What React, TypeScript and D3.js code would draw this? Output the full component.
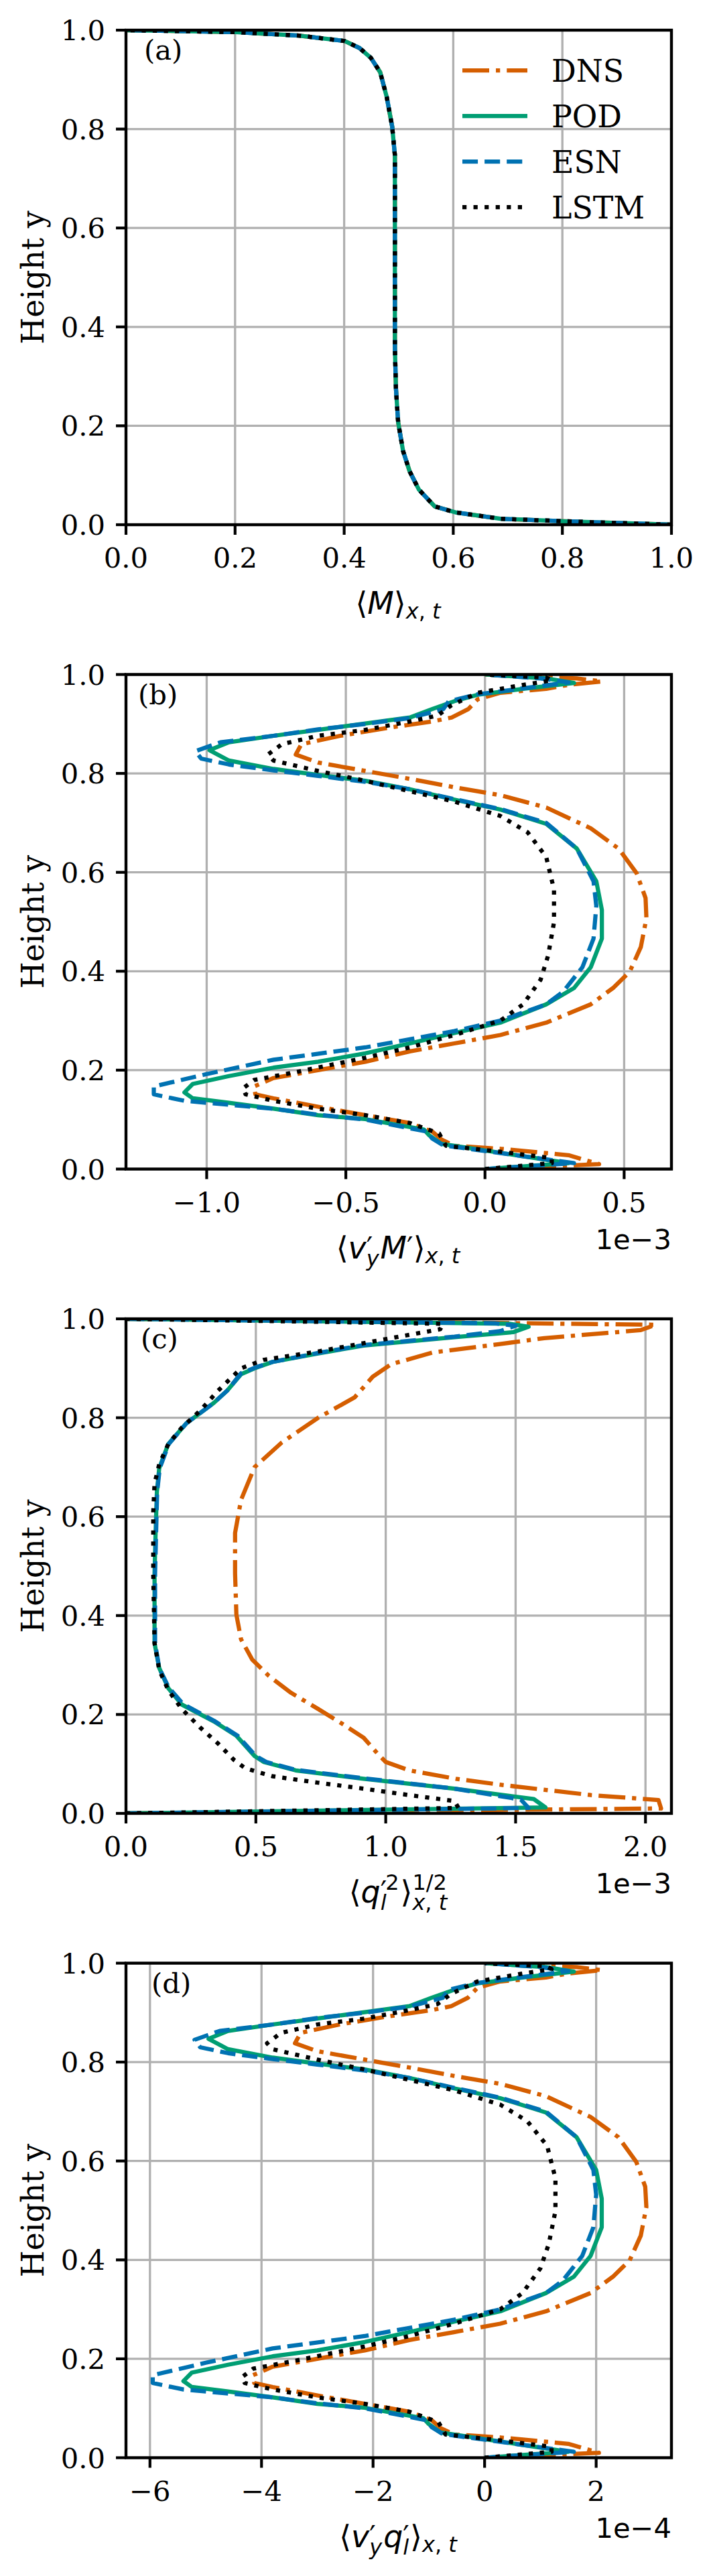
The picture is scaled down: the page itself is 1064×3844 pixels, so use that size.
import React, { useMemo } from 'react';
import * as d3 from 'd3';

type Pt = [number, number];

// ---------- Data: [x value, height y] ----------
// Panel (a): <M>_{x,t} (all four series coincide)
const aDNS: Pt[] = [[1.0,0.0],[0.804,0.007],[0.687,0.012],[0.604,0.025],[0.566,0.037],[0.537,0.071],[0.520,0.108],[0.508,0.149],[0.499,0.207],[0.495,0.274],[0.493,0.357],[0.493,0.481],[0.493,0.647],[0.493,0.747],[0.488,0.805],[0.478,0.865],[0.466,0.915],[0.449,0.944],[0.428,0.964],[0.401,0.978],[0.317,0.989],[0.200,0.996],[0.0,1.0]];
const aPOD: Pt[] = [[1.0,0.0],[0.804,0.007],[0.687,0.012],[0.604,0.025],[0.566,0.037],[0.537,0.071],[0.520,0.108],[0.508,0.149],[0.499,0.207],[0.495,0.274],[0.493,0.357],[0.493,0.481],[0.493,0.647],[0.493,0.747],[0.488,0.805],[0.478,0.865],[0.466,0.915],[0.449,0.944],[0.428,0.964],[0.401,0.978],[0.317,0.989],[0.200,0.996],[0.0,1.0]];
const aESN: Pt[] = [[1.0,0.0],[0.804,0.007],[0.687,0.012],[0.604,0.025],[0.566,0.037],[0.537,0.071],[0.520,0.108],[0.508,0.149],[0.499,0.207],[0.495,0.274],[0.493,0.357],[0.493,0.481],[0.493,0.647],[0.493,0.747],[0.488,0.805],[0.478,0.865],[0.466,0.915],[0.449,0.944],[0.428,0.964],[0.401,0.978],[0.317,0.989],[0.200,0.996],[0.0,1.0]];
const aLSTM: Pt[] = [[1.0,0.0],[0.804,0.007],[0.687,0.012],[0.604,0.025],[0.566,0.037],[0.537,0.071],[0.520,0.108],[0.508,0.149],[0.499,0.207],[0.495,0.274],[0.493,0.357],[0.493,0.481],[0.493,0.647],[0.493,0.747],[0.488,0.805],[0.478,0.865],[0.466,0.915],[0.449,0.944],[0.428,0.964],[0.401,0.978],[0.317,0.989],[0.200,0.996],[0.0,1.0]];

// Panel (b): <v'_y M'>_{x,t}  (units 1e-3)
const bDNS: Pt[] = [[0,0],[0.41,0.010],[0.30,0.028],[0.055,0.041],[-0.11,0.047],[-0.157,0.060],[-0.19,0.076],[-0.27,0.093],[-0.43,0.109],[-0.60,0.126],[-0.76,0.143],[-0.825,0.151],[-0.83,0.167],[-0.76,0.184],[-0.60,0.200],[-0.43,0.217],[-0.27,0.238],[-0.11,0.254],[0.055,0.271],[0.22,0.296],[0.38,0.333],[0.46,0.366],[0.52,0.399],[0.56,0.449],[0.58,0.507],[0.577,0.548],[0.545,0.598],[0.48,0.648],[0.38,0.689],[0.22,0.731],[0.055,0.756],[-0.11,0.772],[-0.27,0.789],[-0.43,0.805],[-0.60,0.822],[-0.68,0.838],[-0.66,0.859],[-0.52,0.876],[-0.35,0.892],[-0.19,0.905],[-0.12,0.913],[-0.06,0.930],[-0.026,0.950],[0.055,0.963],[0.22,0.971],[0.30,0.979],[0.42,0.986],[0.33,0.992],[0.055,0.998],[0,1.0]];
const bPOD: Pt[] = [[0,0],[0.30,0.012],[0.137,0.026],[-0.157,0.051],[-0.20,0.068],[-0.22,0.080],[-0.43,0.101],[-0.60,0.109],[-0.76,0.122],[-0.92,0.134],[-1.05,0.143],[-1.08,0.155],[-1.05,0.172],[-0.92,0.188],[-0.76,0.205],[-0.60,0.217],[-0.43,0.234],[-0.27,0.254],[-0.11,0.275],[0.055,0.296],[0.22,0.333],[0.32,0.366],[0.38,0.408],[0.42,0.466],[0.42,0.524],[0.40,0.582],[0.33,0.648],[0.22,0.698],[0.055,0.727],[-0.11,0.747],[-0.27,0.768],[-0.43,0.785],[-0.60,0.797],[-0.76,0.809],[-0.92,0.826],[-0.99,0.847],[-0.92,0.863],[-0.76,0.876],[-0.60,0.888],[-0.43,0.901],[-0.27,0.913],[-0.19,0.930],[-0.11,0.946],[-0.026,0.959],[0.137,0.971],[0.32,0.983],[0.22,0.992],[0,1.0]];
const bESN: Pt[] = [[0,0],[0.32,0.012],[0.137,0.026],[-0.15,0.048],[-0.19,0.062],[-0.21,0.076],[-0.43,0.100],[-0.60,0.110],[-0.76,0.122],[-0.92,0.130],[-1.08,0.138],[-1.19,0.151],[-1.19,0.167],[-1.0,0.192],[-0.76,0.221],[-0.43,0.246],[-0.11,0.279],[0.055,0.300],[0.22,0.333],[0.28,0.358],[0.35,0.408],[0.39,0.466],[0.40,0.532],[0.39,0.582],[0.33,0.648],[0.22,0.700],[0.055,0.728],[-0.11,0.748],[-0.27,0.768],[-0.43,0.783],[-0.60,0.795],[-0.76,0.806],[-0.92,0.818],[-1.02,0.830],[-1.04,0.845],[-0.95,0.863],[-0.76,0.876],[-0.60,0.889],[-0.43,0.900],[-0.27,0.912],[-0.15,0.930],[-0.13,0.946],[-0.026,0.960],[0.137,0.972],[0.30,0.984],[0.20,0.992],[0,1.0]];
const bLSTM: Pt[] = [[0,0],[0.24,0.012],[0.24,0.022],[0.055,0.035],[-0.14,0.047],[-0.165,0.072],[-0.27,0.093],[-0.43,0.109],[-0.60,0.122],[-0.76,0.138],[-0.86,0.151],[-0.87,0.163],[-0.83,0.180],[-0.68,0.196],[-0.43,0.225],[-0.27,0.246],[-0.11,0.271],[0.055,0.300],[0.137,0.333],[0.20,0.383],[0.227,0.432],[0.248,0.499],[0.248,0.565],[0.22,0.631],[0.153,0.681],[0.055,0.714],[-0.11,0.743],[-0.27,0.764],[-0.43,0.785],[-0.60,0.805],[-0.76,0.826],[-0.78,0.838],[-0.73,0.859],[-0.60,0.876],[-0.43,0.888],[-0.27,0.905],[-0.17,0.917],[-0.12,0.938],[-0.026,0.963],[0.137,0.979],[0.24,0.988],[0.22,0.994],[0,1.0]];

// Panel (c): <q_l'^2>^{1/2}_{x,t}  (units 1e-3)
const cDNS: Pt[] = [[0,0],[2.06,0.010],[2.05,0.027],[1.79,0.037],[1.44,0.058],[1.27,0.070],[1.09,0.087],[1.0,0.104],[0.97,0.120],[0.915,0.153],[0.83,0.182],[0.74,0.211],[0.635,0.244],[0.55,0.278],[0.486,0.311],[0.443,0.352],[0.425,0.402],[0.42,0.485],[0.42,0.567],[0.443,0.634],[0.495,0.700],[0.60,0.750],[0.74,0.800],[0.88,0.841],[0.95,0.883],[1.02,0.908],[1.18,0.932],[1.44,0.949],[1.61,0.961],[1.98,0.977],[2.04,0.988],[0,1.0]];
const cPOD: Pt[] = [[0,0],[1.615,0.012],[1.57,0.029],[1.265,0.050],[0.915,0.070],[0.653,0.087],[0.53,0.104],[0.495,0.116],[0.425,0.157],[0.338,0.186],[0.215,0.220],[0.163,0.253],[0.128,0.294],[0.11,0.344],[0.11,0.485],[0.114,0.567],[0.119,0.650],[0.128,0.698],[0.163,0.747],[0.233,0.789],[0.338,0.830],[0.39,0.855],[0.443,0.888],[0.495,0.900],[0.565,0.913],[0.74,0.930],[0.915,0.946],[1.265,0.963],[1.49,0.973],[1.55,0.984],[1.475,0.990],[0,1.0]];
const cESN: Pt[] = [[0,0],[1.55,0.011],[1.52,0.028],[1.265,0.050],[0.915,0.071],[0.653,0.088],[0.54,0.104],[0.50,0.116],[0.43,0.157],[0.34,0.187],[0.22,0.221],[0.165,0.254],[0.128,0.294],[0.112,0.344],[0.112,0.485],[0.116,0.567],[0.12,0.650],[0.13,0.698],[0.165,0.747],[0.233,0.789],[0.338,0.830],[0.39,0.855],[0.443,0.890],[0.50,0.902],[0.565,0.913],[0.74,0.931],[0.915,0.947],[1.265,0.964],[1.44,0.975],[1.50,0.986],[1.42,0.991],[0,1.0]];
const cLSTM: Pt[] = [[0,0],[1.28,0.011],[1.265,0.025],[1.09,0.037],[0.915,0.050],[0.74,0.062],[0.565,0.075],[0.46,0.091],[0.416,0.108],[0.355,0.141],[0.285,0.174],[0.215,0.211],[0.163,0.249],[0.128,0.290],[0.11,0.344],[0.105,0.485],[0.105,0.609],[0.11,0.667],[0.128,0.706],[0.163,0.747],[0.215,0.780],[0.285,0.814],[0.355,0.855],[0.443,0.900],[0.53,0.917],[0.74,0.934],[1.0,0.959],[1.21,0.979],[1.22,0.990],[0,1.0]];

// Panel (d): <v'_y q'_l>_{x,t}  (units 1e-4)
const dDNS: Pt[] = [[0,0],[2.05,0.010],[1.5,0.028],[0.28,0.041],[-0.55,0.047],[-0.79,0.060],[-0.95,0.076],[-1.35,0.093],[-2.15,0.109],[-3.0,0.126],[-3.8,0.143],[-4.13,0.151],[-4.15,0.167],[-3.8,0.184],[-3.0,0.200],[-2.15,0.217],[-1.35,0.238],[-0.55,0.254],[0.28,0.271],[1.1,0.296],[1.9,0.333],[2.3,0.366],[2.6,0.399],[2.8,0.449],[2.9,0.507],[2.88,0.548],[2.72,0.598],[2.4,0.648],[1.9,0.689],[1.1,0.731],[0.28,0.756],[-0.55,0.772],[-1.35,0.789],[-2.15,0.805],[-3.0,0.822],[-3.4,0.838],[-3.3,0.859],[-2.6,0.876],[-1.75,0.892],[-0.95,0.905],[-0.6,0.913],[-0.3,0.930],[-0.13,0.950],[0.28,0.963],[1.1,0.971],[1.5,0.979],[2.1,0.986],[1.65,0.992],[0.28,0.998],[0,1.0]];
const dPOD: Pt[] = [[0,0],[1.5,0.012],[0.68,0.026],[-0.79,0.051],[-1.0,0.068],[-1.1,0.080],[-2.15,0.101],[-3.0,0.109],[-3.8,0.122],[-4.6,0.134],[-5.25,0.143],[-5.4,0.155],[-5.25,0.172],[-4.6,0.188],[-3.8,0.205],[-3.0,0.217],[-2.15,0.234],[-1.35,0.254],[-0.55,0.275],[0.28,0.296],[1.1,0.333],[1.6,0.366],[1.9,0.408],[2.1,0.466],[2.1,0.524],[2.0,0.582],[1.65,0.648],[1.1,0.698],[0.28,0.727],[-0.55,0.747],[-1.35,0.768],[-2.15,0.785],[-3.0,0.797],[-3.8,0.809],[-4.6,0.826],[-4.95,0.847],[-4.6,0.863],[-3.8,0.876],[-3.0,0.888],[-2.15,0.901],[-1.35,0.913],[-0.95,0.930],[-0.55,0.946],[-0.13,0.959],[0.68,0.971],[1.6,0.983],[1.1,0.992],[0,1.0]];
const dESN: Pt[] = [[0,0],[1.6,0.012],[0.68,0.026],[-0.75,0.048],[-0.95,0.062],[-1.05,0.076],[-2.15,0.100],[-3.0,0.110],[-3.8,0.122],[-4.6,0.130],[-5.4,0.138],[-5.95,0.151],[-5.95,0.167],[-5.0,0.192],[-3.8,0.221],[-2.15,0.246],[-0.55,0.279],[0.28,0.300],[1.1,0.333],[1.4,0.358],[1.75,0.408],[1.95,0.466],[2.0,0.532],[1.95,0.582],[1.65,0.648],[1.1,0.700],[0.28,0.728],[-0.55,0.748],[-1.35,0.768],[-2.15,0.783],[-3.0,0.795],[-3.8,0.806],[-4.6,0.818],[-5.1,0.830],[-5.2,0.845],[-4.75,0.863],[-3.8,0.876],[-3.0,0.889],[-2.15,0.900],[-1.35,0.912],[-0.75,0.930],[-0.65,0.946],[-0.13,0.960],[0.68,0.972],[1.5,0.984],[1.0,0.992],[0,1.0]];
const dLSTM: Pt[] = [[0,0],[1.2,0.012],[1.2,0.022],[0.28,0.035],[-0.7,0.047],[-0.83,0.072],[-1.35,0.093],[-2.15,0.109],[-3.0,0.122],[-3.8,0.138],[-4.3,0.151],[-4.35,0.163],[-4.15,0.180],[-3.4,0.196],[-2.15,0.225],[-1.35,0.246],[-0.55,0.271],[0.28,0.300],[0.68,0.333],[1.0,0.383],[1.15,0.432],[1.27,0.499],[1.27,0.565],[1.12,0.631],[0.76,0.681],[0.28,0.714],[-0.55,0.743],[-1.35,0.764],[-2.15,0.785],[-3.0,0.805],[-3.8,0.826],[-3.9,0.838],[-3.65,0.859],[-3.0,0.876],[-2.15,0.888],[-1.35,0.905],[-0.85,0.917],[-0.6,0.938],[-0.13,0.963],[0.68,0.979],[1.2,0.988],[1.1,0.994],[0,1.0]];

// Axes limits and ticks
const aXDomain = [0, 1];
const bXDomain = [-1.29, 0.67];
const cXDomain = [0, 2.1];
const dXDomain = [-6.43, 3.35];
const aXTicks = [0, 0.2, 0.4, 0.6, 0.8, 1.0];
const bXTicks = [-1.0, -0.5, 0.0, 0.5];
const cXTicks = [0, 0.5, 1.0, 1.5, 2.0];
const dXTicks = [-6, -4, -2, 0, 2];
const aXTickLabels = ['0.0', '0.2', '0.4', '0.6', '0.8', '1.0'];
const bXTickLabels = ['\u22121.0', '\u22120.5', '0.0', '0.5'];
const cXTickLabels = ['0.0', '0.5', '1.0', '1.5', '2.0'];
const dXTickLabels = ['\u22126', '\u22124', '\u22122', '0', '2'];
const yTicks = [0, 0.2, 0.4, 0.6, 0.8, 1.0];
const yTickLabels = ['0.0', '0.2', '0.4', '0.6', '0.8', '1.0'];
const seriesNames = ['DNS', 'POD', 'ESN', 'LSTM'];
const panelLetters = ['(a)', '(b)', '(c)', '(d)'];
const offsetTexts = ['', '1e\u22123', '1e\u22123', '1e\u22124'];

// ---------- Styles / layout ----------
const W = 1064;
const H = 3844;
const LEFT = 188;
const PW = 814;
const PH = 738;
const TOP0 = 45;
const STEP = 961.5;
const SERIF = '"DejaVu Serif", serif';
const SANS = '"DejaVu Sans", sans-serif';
const TICK_FS = 41.7;
const LABEL_FS = 45.8;
const SCRIPT_FS = 32;

const styles = [
  { color: '#D55E00', dash: '40 10 6.25 10' },
  { color: '#009E73', dash: '' },
  { color: '#0072B2', dash: '23.1 10' },
  { color: '#000000', dash: '6.25 10.3' },
];

type Piece = { t: string; it?: boolean; prime?: boolean };
type Atom = { b?: string; it?: boolean; sup?: Piece[]; sub?: Piece[] };

const XT: Piece[] = [{ t: 'x', it: true }, { t: ', ' }, { t: 't', it: true }];
const PR: Piece = { t: '\u2032', prime: true };
const labelsMath: Atom[][] = [
  [{ b: '\u27E8' }, { b: 'M', it: true }, { b: '\u27E9', sub: XT }],
  [{ b: '\u27E8' }, { b: 'v', it: true, sup: [PR], sub: [{ t: 'y', it: true }] }, { b: 'M', it: true, sup: [PR] }, { b: '\u27E9', sub: XT }],
  [{ b: '\u27E8' }, { b: 'q', it: true, sup: [PR, { t: '2' }], sub: [{ t: 'l', it: true }] }, { b: '\u27E9', sup: [{ t: '1/2' }], sub: XT }],
  [{ b: '\u27E8' }, { b: 'v', it: true, sup: [PR], sub: [{ t: 'y', it: true }] }, { b: 'q', it: true, sup: [PR], sub: [{ t: 'l', it: true }] }, { b: '\u27E9', sub: XT }],
];

let ctx: CanvasRenderingContext2D | null = null;
function measure(t: string, it: boolean, size: number) {
  if (!ctx) ctx = document.createElement('canvas').getContext('2d');
  if (!ctx) return t.length * size * 0.6;
  ctx.font = `${it ? 'italic ' : ''}${size}px "DejaVu Sans"`;
  return ctx.measureText(t).width;
}

function MathLabel({ atoms, cx, baseline }: { atoms: Atom[]; cx: number; baseline: number }) {
  const layout = useMemo(() => {
    const out: { t: string; it: boolean; size: number; x: number; dy: number }[] = [];
    let x = 0;
    for (const a of atoms) {
      if (a.b) {
        out.push({ t: a.b, it: !!a.it, size: LABEL_FS, x, dy: 0 });
        x += measure(a.b, !!a.it, LABEL_FS);
      }
      const hasSup = !!a.sup;
      let supW = 0;
      let subW = 0;
      if (a.sup) {
        let sx = x + (a.it ? 2 : 0);
        for (const p of a.sup) {
          if (p.prime) {
            out.push({ t: p.t, it: false, size: 42, x: sx - 2, dy: -2 });
            sx += measure(p.t, false, 42) - 4;
          } else {
            out.push({ t: p.t, it: !!p.it, size: SCRIPT_FS, x: sx, dy: -19 });
            sx += measure(p.t, !!p.it, SCRIPT_FS);
          }
        }
        supW = sx - x;
      }
      if (a.sub) {
        let sx = x;
        for (const p of a.sub) {
          out.push({ t: p.t, it: !!p.it, size: SCRIPT_FS, x: sx, dy: hasSup ? 11 : 7 });
          sx += measure(p.t, !!p.it, SCRIPT_FS);
        }
        subW = sx - x;
      }
      if (a.sup || a.sub) x += Math.max(supW, subW) + 2;
    }
    return { out, width: x };
  }, [atoms]);
  const x0 = cx - layout.width / 2;
  return (
    <text fontFamily={SANS} fill="#000">
      {layout.out.map((p, i) => (
        <tspan key={i} x={x0 + p.x} y={baseline + p.dy} fontSize={p.size}
          fontStyle={p.it ? 'italic' : 'normal'}>{p.t}</tspan>
      ))}
    </text>
  );
}

type PanelProps = {
  idx: number;
  series: Pt[][];
  xDomain: number[];
  xTicks: number[];
  xTickLabels: string[];
  letterX: number;
  legend?: boolean;
};

function Panel({ idx, series, xDomain, xTicks, xTickLabels, letterX, legend }: PanelProps) {
  const top = TOP0 + idx * STEP;
  const bottom = top + PH;
  const x = d3.scaleLinear().domain(xDomain).range([LEFT, LEFT + PW]);
  const y = d3.scaleLinear().domain([0, 1]).range([bottom, top]);
  const line = d3.line<Pt>().x(d => x(d[0])).y(d => y(d[1]));
  const clipId = `clip-${idx}`;
  return (
    <g>
      <defs>
        <clipPath id={clipId}>
          <rect x={LEFT} y={top} width={PW} height={PH} />
        </clipPath>
      </defs>
      {/* grid */}
      <g stroke="#b0b0b0" strokeWidth={3.3}>
        {xTicks.map((t, i) => (
          <line key={'gx' + i} x1={x(t)} x2={x(t)} y1={top} y2={bottom} />
        ))}
        {yTicks.map((t, i) => (
          <line key={'gy' + i} x1={LEFT} x2={LEFT + PW} y1={y(t)} y2={y(t)} />
        ))}
      </g>
      {/* series */}
      <g clipPath={`url(#${clipId})`}>
        {series.map((s, i) => (
          <path key={i} d={line(s) || ''} fill="none" stroke={styles[i].color} strokeWidth={6.25}
            strokeDasharray={styles[i].dash || undefined} strokeLinejoin="round" strokeLinecap="butt" />
        ))}
      </g>
      {/* spines */}
      <rect x={LEFT} y={top} width={PW} height={PH} fill="none" stroke="#000" strokeWidth={4.4} />
      {/* ticks */}
      <g stroke="#000" strokeWidth={4.2}>
        {xTicks.map((t, i) => (
          <line key={'tx' + i} x1={x(t)} x2={x(t)} y1={bottom} y2={bottom + 15} />
        ))}
        {yTicks.map((t, i) => (
          <line key={'ty' + i} x1={LEFT - 15} x2={LEFT} y1={y(t)} y2={y(t)} />
        ))}
      </g>
      <g fontFamily={SERIF} fontSize={TICK_FS} fill="#000">
        {xTicks.map((t, i) => (
          <text key={'lx' + i} x={x(t)} y={bottom + 64} textAnchor="middle">{xTickLabels[i]}</text>
        ))}
        {yTicks.map((t, i) => (
          <text key={'ly' + i} x={157} y={y(t) + 15} textAnchor="end">{yTickLabels[i]}</text>
        ))}
        <text x={letterX} y={top + 44}>{panelLetters[idx]}</text>
      </g>
      {offsetTexts[idx] && (
        <text x={LEFT + PW} y={bottom + 119} textAnchor="end" fontFamily={SANS} fontSize={TICK_FS}>{offsetTexts[idx]}</text>
      )}
      <text transform={`translate(65,${(top + bottom) / 2}) rotate(-90)`} textAnchor="middle"
        fontFamily={SERIF} fontSize={LABEL_FS}>Height y</text>
      <MathLabel atoms={labelsMath[idx]} cx={LEFT + PW / 2} baseline={bottom + 133} />
      {legend && (
        <g>
          {seriesNames.map((n, i) => {
            const ry = top + 60 + i * 68;
            return (
              <g key={n}>
                <line x1={690} x2={787} y1={ry} y2={ry} stroke={styles[i].color} strokeWidth={6.25}
                  strokeDasharray={styles[i].dash || undefined} />
                <text x={823} y={ry + 16.7} fontFamily={SERIF} fontSize={LABEL_FS}>{n}</text>
              </g>
            );
          })}
        </g>
      )}
    </g>
  );
}

export default function App() {
  return (
    <svg width={W} height={H} viewBox={`0 0 ${W} ${H}`}
      style={{ position: 'absolute', left: 0, top: 0, display: 'block', background: '#fff' }}>
      <rect x={0} y={0} width={W} height={H} fill="#fff" />
      <Panel idx={0} series={[aDNS, aPOD, aESN, aLSTM]} xDomain={aXDomain} xTicks={aXTicks} xTickLabels={aXTickLabels} letterX={215} legend />
      <Panel idx={1} series={[bDNS, bPOD, bESN, bLSTM]} xDomain={bXDomain} xTicks={bXTicks} xTickLabels={bXTickLabels} letterX={206} />
      <Panel idx={2} series={[cDNS, cPOD, cESN, cLSTM]} xDomain={cXDomain} xTicks={cXTicks} xTickLabels={cXTickLabels} letterX={210} />
      <Panel idx={3} series={[dDNS, dPOD, dESN, dLSTM]} xDomain={dXDomain} xTicks={dXTicks} xTickLabels={dXTickLabels} letterX={226} />
    </svg>
  );
}
